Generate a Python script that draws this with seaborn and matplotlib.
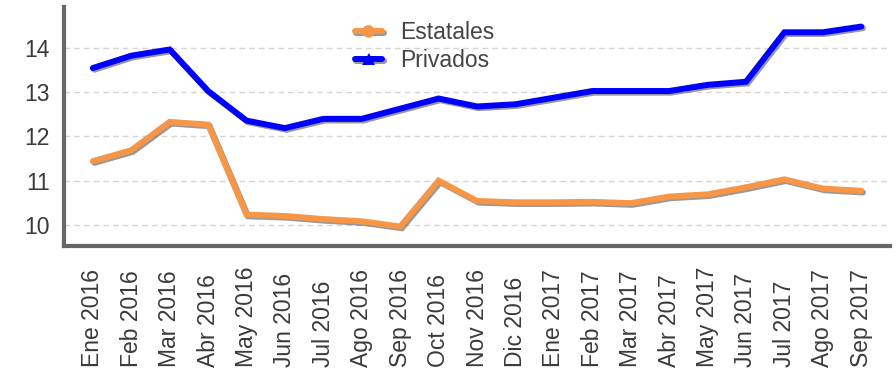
import matplotlib
matplotlib.use("Agg")
import matplotlib.pyplot as plt
import matplotlib.patheffects as pe
import seaborn as sns
import pandas as pd

months = ["Ene 2016", "Feb 2016", "Mar 2016", "Abr 2016", "May 2016", "Jun 2016",
          "Jul 2016", "Ago 2016", "Sep 2016", "Oct 2016", "Nov 2016", "Dic 2016",
          "Ene 2017", "Feb 2017", "Mar 2017", "Abr 2017", "May 2017", "Jun 2017",
          "Jul 2017", "Ago 2017", "Sep 2017"]
estatales = [11.44, 11.69, 12.33, 12.27, 10.23, 10.20, 10.13, 10.08, 9.96, 11.00,
             10.54, 10.51, 10.51, 10.52, 10.49, 10.64, 10.69, 10.85, 11.03, 10.82, 10.77]
privados = [13.55, 13.83, 13.97, 13.03, 12.36, 12.19, 12.40, 12.40, 12.63, 12.86,
            12.68, 12.73, 12.88, 13.03, 13.03, 13.03, 13.17, 13.24, 14.36, 14.36, 14.49]
yticks = [10, 11, 12, 13, 14]

df = pd.DataFrame({
    "mes": list(range(len(months))) * 2,
    "valor": estatales + privados,
    "serie": ["Estatales"] * len(months) + ["Privados"] * len(months),
})

sns.set_theme(style="white")
plt.rcParams["font.family"] = ["Liberation Sans", "DejaVu Sans"]

fig = plt.figure(figsize=(8.96, 3.75), dpi=100)
ax = fig.add_axes([0.0714, 0.344, 0.922, 0.637])

shadow = [pe.SimpleLineShadow(offset=(1.2, -1.2), shadow_color="#555555", alpha=0.6),
          pe.Normal()]
sns.lineplot(data=df, x="mes", y="valor", hue="serie", style="serie",
             palette={"Estatales": "#f79646", "Privados": "#0000ff"},
             markers={"Estatales": "o", "Privados": "^"}, dashes=False,
             markersize=3, markeredgewidth=0, linewidth=4.3, ax=ax)
for line in ax.lines:
    line.set_path_effects(shadow)
    line.set_solid_joinstyle("miter")

ax.set_xlim(-0.75, 20.75)
ax.set_ylim(9.52, 14.93)
ax.set_xticks(range(len(months)))
ax.set_xticklabels(months, rotation=90, fontsize=16.5, color="#3a3a3a", va="bottom")
ax.set_yticks(yticks)
ax.set_yticklabels([str(v) for v in yticks], fontsize=16.5, color="#3a3a3a")
ax.tick_params(axis="x", length=0, pad=87)
ax.tick_params(axis="y", length=0, pad=10)
ax.set_xlabel("")
ax.set_ylabel("")

ax.yaxis.grid(True, linestyle=(0, (4, 3)), color="#d4d4d4", linewidth=1)
ax.set_axisbelow(True)
for side in ["top", "right"]:
    ax.spines[side].set_visible(False)
for side in ["left", "bottom"]:
    ax.spines[side].set_color("#666666")
    ax.spines[side].set_linewidth(3)

leg = ax.legend(loc="upper left", bbox_to_anchor=(0.352, 0.94), frameon=False,
                fontsize=16.5, handlelength=1.2, handletextpad=0.8,
                labelspacing=0.2, borderaxespad=0, borderpad=0)
for h in leg.legend_handles:
    h.set_markersize(9)
    h.set_linewidth(4.3)
    h.set_path_effects(shadow)
for t in leg.get_texts():
    t.set_color("#444444")

fig.savefig("out.png", dpi=100)
